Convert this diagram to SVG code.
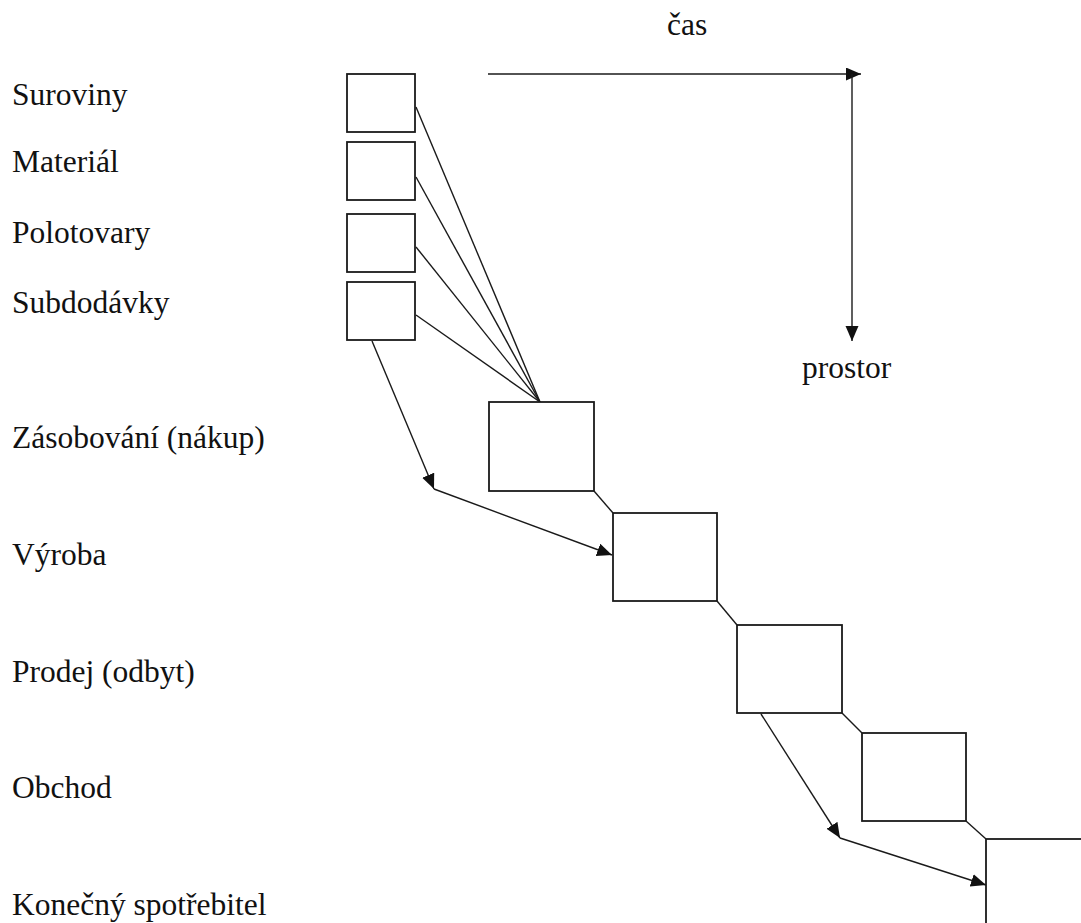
<svg xmlns="http://www.w3.org/2000/svg" width="1081" height="923" viewBox="0 0 1081 923">
  <style>
    .lbl { font-family: "Liberation Serif", "Times New Roman", serif; font-size: 31.5px; fill: #111; }
    .box { fill: #fff; stroke: #1a1a1a; stroke-width: 1.8; }
    .ln { fill: none; stroke: #1a1a1a; stroke-width: 1.4; }
  </style>
  <defs>
    <marker id="arrow" markerUnits="userSpaceOnUse" markerWidth="16" markerHeight="14" refX="15" refY="6.5" orient="auto">
      <path d="M0,0 L15,6.5 L0,13 z" fill="#111"/>
    </marker>
  </defs>

  <rect width="1081" height="923" fill="#fff"/>

  <!-- axis labels -->
  <g id="axes">
    <text class="lbl" x="667" y="35">čas</text>
    <text class="lbl" x="802" y="378">prostor</text>
  </g>

  <!-- row labels -->
  <g id="labels">
    <text class="lbl" x="12" y="105">Suroviny</text>
    <text class="lbl" x="12" y="172">Materiál</text>
    <text class="lbl" x="12" y="243">Polotovary</text>
    <text class="lbl" x="12" y="313">Subdodávky</text>
    <text class="lbl" x="12" y="448">Zásobování (nákup)</text>
    <text class="lbl" x="12" y="565">Výroba</text>
    <text class="lbl" x="12" y="682">Prodej (odbyt)</text>
    <text class="lbl" x="12" y="798">Obchod</text>
    <text class="lbl" x="12" y="915">Konečný spotřebitel</text>
  </g>

  <!-- connectors -->
  <g id="connectors">
    <!-- time and space axes -->
    <line class="ln" x1="488" y1="74" x2="861" y2="74" marker-end="url(#arrow)"/>
    <line class="ln" x1="852" y1="74" x2="852" y2="341" marker-end="url(#arrow)"/>
    <!-- inputs converging into supply -->
    <line class="ln" x1="416" y1="107" x2="540" y2="402"/>
    <line class="ln" x1="416" y1="177" x2="540" y2="402"/>
    <line class="ln" x1="416" y1="247" x2="540" y2="402"/>
    <line class="ln" x1="416" y1="315" x2="540" y2="402"/>
    <!-- chain links between stages -->
    <line class="ln" x1="594" y1="491" x2="613" y2="513"/>
    <line class="ln" x1="717" y1="601" x2="737" y2="625"/>
    <line class="ln" x1="842" y1="713" x2="862" y2="733"/>
    <line class="ln" x1="966" y1="821" x2="986" y2="839"/>
    <!-- bypass flows -->
    <line class="ln" x1="372" y1="341" x2="434" y2="489" marker-end="url(#arrow)"/>
    <line class="ln" x1="434" y1="489" x2="612" y2="555" marker-end="url(#arrow)"/>
    <line class="ln" x1="761" y1="714" x2="840" y2="838" marker-end="url(#arrow)"/>
    <line class="ln" x1="840" y1="838" x2="986" y2="885" marker-end="url(#arrow)"/>
  </g>

  <!-- stage boxes -->
  <g id="suroviny"><rect class="box" x="347" y="74" width="68" height="58"/></g>
  <g id="material"><rect class="box" x="347" y="142" width="68" height="58"/></g>
  <g id="polotovary"><rect class="box" x="347" y="214" width="68" height="58"/></g>
  <g id="subdodavky"><rect class="box" x="347" y="282" width="68" height="58"/></g>
  <g id="zasobovani"><rect class="box" x="489" y="402" width="105" height="89"/></g>
  <g id="vyroba"><rect class="box" x="613" y="513" width="104" height="88"/></g>
  <g id="prodej"><rect class="box" x="737" y="625" width="105" height="88"/></g>
  <g id="obchod"><rect class="box" x="862" y="733" width="104" height="88"/></g>
  <g id="spotrebitel"><rect class="box" x="986" y="839" width="140" height="120"/></g>
</svg>
